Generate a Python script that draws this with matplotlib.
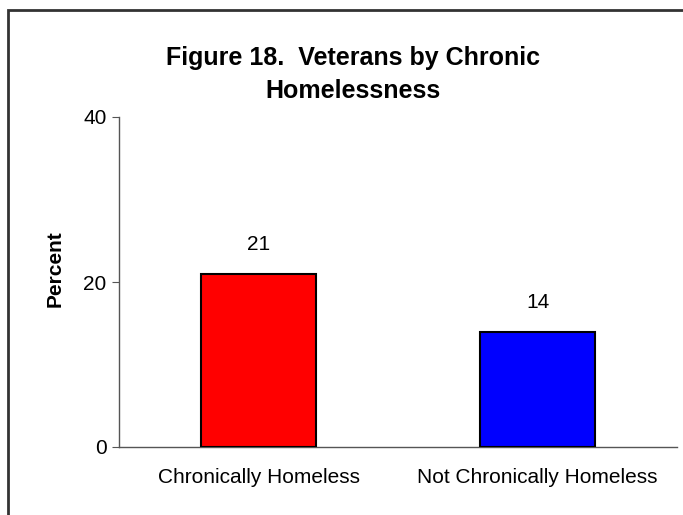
import matplotlib.pyplot as plt
from matplotlib.patches import Rectangle

plt.rcParams['font.family'] = ['Liberation Sans', 'DejaVu Sans']

categories = ['Chronically Homeless', 'Not Chronically Homeless']
percent = [21, 14]
bar_colors = ['#ff0000', '#0000ff']
y_ticks = [0, 20, 40]
title_lines = ['Figure 18.  Veterans by Chronic', 'Homelessness']

W, H = 683, 515
fig = plt.figure(figsize=(W / 100, H / 100), dpi=100)
ax = fig.add_axes([119 / W, 1 - 447 / H, 558 / W, 330 / H])

x = list(range(len(categories)))
bars = ax.bar(x, percent, width=0.41, color=bar_colors,
              edgecolor='black', linewidth=1.5, zorder=3)
for rect, val in zip(bars, percent):
    ax.text(rect.get_x() + rect.get_width() / 2, val + 2.4, f'{val}',
            ha='center', va='bottom', fontsize=15)

ax.set_xlim(-0.5, 1.5)
ax.set_ylim(0, 40)
ax.set_yticks(y_ticks)
ax.set_xticks(x)
ax.set_xticklabels(categories, fontsize=15)
ax.tick_params(axis='y', labelsize=15, length=5, color='#555555', pad=4)
ax.tick_params(axis='x', length=0, pad=15)
for side in ('top', 'right'):
    ax.spines[side].set_visible(False)
for side in ('left', 'bottom'):
    ax.spines[side].set_color('#555555')
    ax.spines[side].set_linewidth(1.0)

ax.set_ylabel('Percent', fontsize=15, fontweight='bold')
ax.yaxis.set_label_coords(-0.097, 0.54)

# two-line title, placed by baseline
for line, base in zip(title_lines, [65, 98]):
    fig.text(353 / W, 1 - base / H, line, ha='center', va='baseline',
             fontsize=18, fontweight='bold')

# frame around the chart area, open on the right and bottom
fig.patches.append(Rectangle((8 / W, -0.1), 1.2, 1 - 10 / H + 0.1,
                             transform=fig.transFigure, fill=False,
                             edgecolor='#333333', linewidth=2))

fig.savefig('out.png', dpi=100)
